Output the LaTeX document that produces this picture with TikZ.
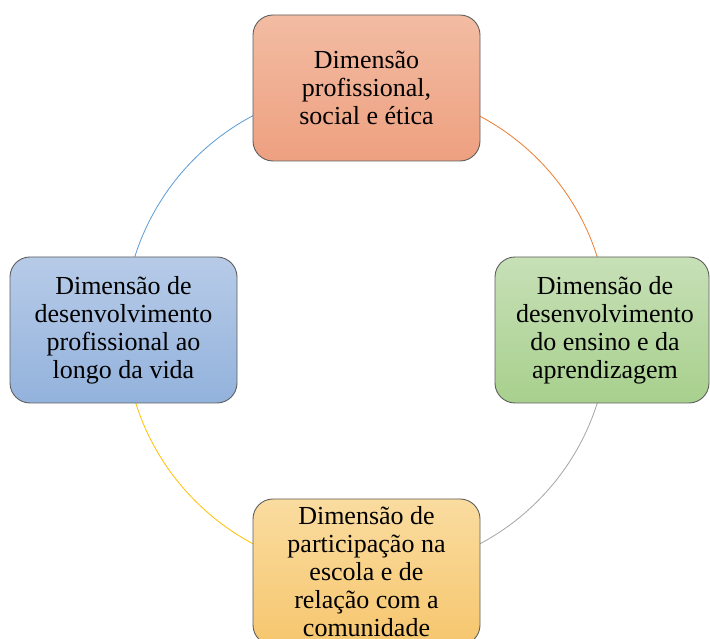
\documentclass[tikz,border=0pt]{standalone}
\usepackage{fontspec}
\setmainfont{Liberation Serif}
\usetikzlibrary{backgrounds}
\definecolor{bordercol}{HTML}{5E5E5E}
\definecolor{arcorange}{HTML}{ED7D31}
\definecolor{arcgray}{HTML}{A5A5A5}
\definecolor{arcyellow}{HTML}{FFC000}
\definecolor{arcblue}{HTML}{5B9BD5}
\definecolor{redtop}{RGB}{242,188,163}
\definecolor{redbot}{RGB}{238,160,128}
\definecolor{bluetop}{RGB}{183,203,232}
\definecolor{bluebot}{RGB}{147,178,220}
\definecolor{greentop}{RGB}{199,224,183}
\definecolor{greenbot}{RGB}{168,208,141}
\definecolor{yellowtop}{RGB}{250,220,160}
\definecolor{yellowbot}{RGB}{246,198,110}
\tikzset{
  dimbox/.style={draw=bordercol, line width=0.9pt, rounded corners=20pt,
    minimum width=227pt, minimum height=146pt, inner sep=0pt,
    align=center, font=\fontsize{26}{28}\selectfont},
  redbox/.style={dimbox, top color=redtop, bottom color=redbot},
  bluebox/.style={dimbox, top color=bluetop, bottom color=bluebot},
  greenbox/.style={dimbox, top color=greentop, bottom color=greenbot},
  yellowbox/.style={dimbox, top color=yellowtop, bottom color=yellowbot},
  cyclearc/.style={line width=0.8pt}
}
\begin{document}
\begin{tikzpicture}[x=1pt,y=1pt]
\useasboundingbox (0,0) rectangle (710,639);
\coordinate (c) at (366.5,309);
\node[redbox] (top) at (366.5,551) {Dimensão\\profissional,\\social e ética};
\node[bluebox] (left) at (123.5,309) {Dimensão de\\desenvolvimento\\profissional ao\\longo da vida};
\node[greenbox, minimum width=214pt] (right) at (602,309) {\hspace*{6pt}Dimensão de\\\hspace*{6pt}desenvolvimento\\\hspace*{6pt}do ensino e da\\\hspace*{6pt}aprendizagem};
\node[yellowbox] (bottom) at (366.5,67) {Dimensão de\\participação na\\escola e de\\relação com a\\comunidade};
\begin{scope}[on background layer]
\fill[white] (0,0) rectangle (710,639);
\draw[cyclearc, arcorange] (top.center) arc[start angle=90, end angle=0, radius=242];
\draw[cyclearc, arcgray] (c) ++(0:242) arc[start angle=0, end angle=-90, radius=242];
\draw[cyclearc, arcyellow] (bottom.center) arc[start angle=-90, end angle=-180, radius=242];
\draw[cyclearc, arcblue] (left.center) arc[start angle=180, end angle=90, radius=242];
\end{scope}
\end{tikzpicture}
\end{document}
